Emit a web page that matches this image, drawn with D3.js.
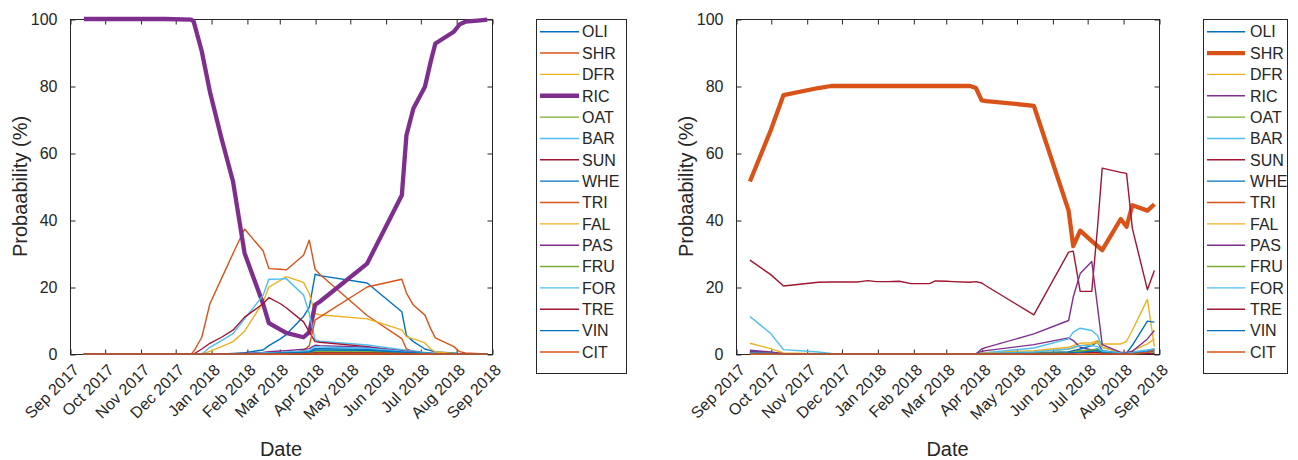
<!DOCTYPE html>
<html><head><meta charset="utf-8">
<script src="https://cdn.jsdelivr.net/npm/d3@7"></script>
<style>
body{margin:0;background:#fff;}
svg{display:block;}
text{font-family:"Liberation Sans", Arial, Helvetica, sans-serif; fill:#262626;}
</style>
</head><body><svg id="c" width="1298" height="460"></svg>
<script>
const dates = ["2017-09-13","2017-10-01","2017-10-12","2017-11-11","2017-11-22","2017-12-15","2017-12-17","2017-12-24",
"2017-12-31","2018-01-10","2018-01-20","2018-01-30","2018-02-15","2018-02-20","2018-03-02","2018-03-07",
"2018-03-22","2018-03-27","2018-04-01","2018-04-05","2018-05-16","2018-06-15","2018-06-19","2018-06-25",
"2018-07-05","2018-07-10","2018-07-14","2018-07-30","2018-08-04","2018-08-09","2018-08-22","2018-08-28"];
const classes = ["OLI","SHR","DFR","RIC","OAT","BAR","SUN","WHE","TRI","FAL","PAS","FRU","FOR","TRE","VIN","CIT"];
const palette = ["#0072BD","#D95319","#EDB120","#7E2F8E","#77AC30","#4DBEEE","#A2142F"];
const yTicks = [0,20,40,60,80,100];
const monthTicks = ["2017-09-01","2017-10-01","2017-11-01","2017-12-01","2018-01-01","2018-02-01","2018-03-01",
"2018-04-01","2018-05-01","2018-06-01","2018-07-01","2018-08-01","2018-09-01"];
const monthLabels = ["Sep 2017","Oct 2017","Nov 2017","Dec 2017","Jan 2018","Feb 2018","Mar 2018",
"Apr 2018","May 2018","Jun 2018","Jul 2018","Aug 2018","Sep 2018"];

// ---- left panel (RIC field) ----
const OLI_L = [0,0,0,0,0,0,0,0, 0,0,0.2,0.4,1.2,2.5,4.5,5.8, 11.2,14.0,23.8,23.4,21.2,12.6,5.5,3.7, 1.5,1.0,0.6,0.3,0.1,0,0,0];
const SHR_L = [0,0,0,0,0,0,0.8,5.0, 15.0,22.5,30.0,37.3,30.8,25.5,25.3,25.1, 29.5,34.0,25.3,23.8,11.5,4.6,1.5,0.8, 0.3,0.1,0,0,0,0,0,0];
const DFR_L = [0,0,0,0,0,0,0,0, 0.8,2.2,3.7,6.8,15.5,20.0,22.0,23.1, 21.4,18.0,12.0,11.7,10.5,7.2,5.2,4.5, 3.3,1.5,0.6,0.2,0,0,0,0];
const RIC_L = [100,100,100,100,100,99.8,99.2,90.3, 78.3,64.4,51.5,30.1,15.0,9.2,7.3,6.3, 5.0,6.5,14.7,15.6,27.0,47.4,65.3,73.3, 79.8,87.3,92.7,96.2,98.4,99.2,99.6,99.8];
const OAT_L = [0,0,0,0,0,0,0,0, 0,0,0,0,0.1,0.1,0.2,0.2, 0.3,0.4,0.8,0.9,0.9,0.6,0.5,0.4, 0.3,0.2,0.1,0,0,0,0,0];
const BAR_L = [0,0,0,0,0,0,0,0, 2.0,4.0,6.1,10.5,17.5,22.3,22.4,22.5, 17.6,12.0,4.2,3.8,2.7,1.3,1.1,0.9, 0.5,0.3,0.2,0,0,0,0,0];
const SUN_L = [0,0,0,0,0,0,0,1.5, 3.2,5.0,7.1,11.0,15.0,16.8,15.0,13.8, 9.6,6.6,3.7,3.5,2.2,0.8,0.6,0.4, 0.2,0,0,0,0,0,0,0];
const WHE_L = [0,0,0,0,0,0,0,0, 0,0,0,0,0.2,0.3,0.4,0.5, 0.8,0.9,1.6,1.6,1.4,0.8,0.6,0.5, 0.3,0.2,0.1,0,0,0,0,0];
const TRI_L = [0,0,0,0,0,0,0,0, 0,0,0,0,0,0,0,0, 1.0,2.5,10.1,11.0,20.0,22.3,18.2,14.6, 11.6,7.5,4.8,2.2,0.7,0.3,0.1,0];
const FAL_L = [0,0,0,0,0,0,0,0, 0,0,0,0,0.1,0.1,0.2,0.2, 0.3,0.4,0.5,0.5,0.5,0.3,0.3,0.2, 0.1,0.1,0,0,0,0,0,0];
const PAS_L = [0,0,0,0,0,0,0,0, 0,0,0,0.2,0.5,0.7,0.9,1.0, 1.4,1.6,2.6,2.5,2.0,1.0,0.8,0.6, 0.3,0.2,0.1,0,0,0,0,0];
const FRU_L = [0,0,0,0,0,0,0,0, 0,0,0,0,0.1,0.1,0.1,0.2, 0.3,0.3,0.6,0.6,0.6,0.4,0.3,0.3, 0.2,0.1,0,0,0,0,0,0];
const FOR_L = [0,0,0,0,0,0,0,0, 0,0,0,0.1,0.3,0.4,0.5,0.6, 0.8,1.0,2.2,2.1,1.7,0.8,0.6,0.5, 0.3,0.1,0,0,0,0,0,0];
const TRE_L = [0,0,0,0,0,0,0,0, 0,0,0,0,0.1,0.1,0.1,0.1, 0.2,0.2,0.3,0.3,0.3,0.2,0.2,0.1, 0.1,0,0,0,0,0,0,0];
const VIN_L = [0,0,0,0,0,0,0,0, 0,0,0,0,0.1,0.2,0.3,0.3, 0.5,0.6,1.2,1.2,1.1,0.6,0.5,0.4, 0.2,0.1,0,0,0,0,0,0];
const CIT_L = [0,0,0,0,0,0,0,0, 0,0,0,0,0,0,0,0, 0,0,0,0,0,0,0,0, 0,0,0,0,0,0,0,0];

// ---- right panel (SHR field) ----
const OLI_R = [0.8,0.4,0,0,0,0,0,0, 0,0,0,0,0,0,0,0, 0,0,0.1,0.1,0.2,0.4,0.5,0.8, 1.2,1.5,0.5,0.2,0.1,0.3,1.0,1.5];
const SHR_R = [51.5,66.8,77.3,79.4,80.0,80.0,80.0,80.0, 80.0,80.0,80.0,80.0,80.0,80.0,80.0,80.0, 80.0,79.4,75.7,75.5,74.1,42.8,32.2,36.8, 33.7,32.2,31.0,40.3,38.0,44.4,42.8,44.7];
const DFR_R = [3.2,1.6,0.3,0.1,0,0,0,0, 0,0,0,0,0,0,0,0, 0,0,0.3,0.4,1.0,2.0,2.5,3.2, 3.4,4.0,3.0,3.0,3.8,7.1,16.3,2.2];
const RIC_R = [1.1,0.6,0.1,0,0,0,0,0, 0,0,0,0,0,0,0,0, 0,0,0.8,1.0,2.8,4.8,4.0,2.0, 1.2,0.8,0.5,0.2,0.2,0.2,0.4,0.6];
const OAT_R = [0.2,0.1,0,0,0,0,0,0, 0,0,0,0,0,0,0,0, 0,0,0.1,0.1,0.3,0.6,0.8,1.0, 1.2,1.2,0.5,0.2,0.1,0.1,0.3,0.5];
const BAR_R = [11.2,6.1,1.3,0.6,0.2,0,0,0, 0,0,0,0,0,0,0,0, 0,0,0.3,0.4,1.8,4.5,6.5,7.7, 7.0,5.5,2.0,0.5,0.4,0.6,1.2,1.5];
const SUN_R = [28.0,23.7,20.3,21.4,21.5,21.5,21.6,21.9, 21.6,21.6,21.7,21.0,21.0,21.8,21.7,21.6, 21.4,21.6,21.2,20.3,11.7,30.4,30.7,18.7, 18.7,38.0,55.5,54.2,53.9,37.5,19.2,24.9];
const WHE_R = [0.3,0.2,0,0,0,0,0,0, 0,0,0,0,0,0,0,0, 0,0,0.1,0.1,0.3,0.6,1.0,1.5, 2.5,3.6,1.0,0.3,0.3,2.6,9.8,9.5];
const TRI_R = [0,0,0,0,0,0,0,0, 0,0,0,0,0,0,0,0, 0,0,0.1,0.1,0.2,0.3,0.4,0.5, 0.5,0.5,0.3,0.1,0.1,0.1,0.2,0.3];
const FAL_R = [0,0,0,0,0,0,0,0, 0,0,0,0,0,0,0,0, 0,0,0.2,0.3,0.6,1.5,1.8,2.5, 3.0,3.5,2.0,0.5,0.4,1.0,3.0,4.5];
const PAS_R = [0.6,0.3,0,0,0,0,0,0, 0,0,0,0,0,0,0,0, 0,0,1.5,2.0,6.0,10.0,17.0,24.0, 27.6,14.0,2.8,0.5,0.5,0.8,4.5,7.0];
const FRU_R = [0.1,0,0,0,0,0,0,0, 0,0,0,0,0,0,0,0, 0,0,0,0.1,0.2,0.4,0.5,0.6, 0.8,0.9,0.4,0.1,0.1,0.1,0.2,0.3];
const FOR_R = [0.4,0.2,0,0,0,0,0,0, 0,0,0,0,0,0,0,0, 0,0,0.1,0.2,0.6,1.5,2.0,2.5, 2.5,2.2,0.8,0.3,0.2,0.3,0.6,0.8];
const TRE_R = [0.2,0.1,0,0,0,0,0,0, 0,0,0,0,0,0,0,0, 0,0,0,0,0.1,0.2,0.3,0.4, 0.4,0.4,0.2,0.1,0.1,0.1,0.1,0.1];
const VIN_R = [0.2,0.1,0,0,0,0,0,0, 0,0,0,0,0,0,0,0, 0,0,0.1,0.1,0.2,0.3,0.4,0.5, 0.8,1.0,0.4,0.1,0.1,0.2,0.6,1.0];
const CIT_R = [0,0,0,0,0,0,0,0, 0,0,0,0,0,0,0,0, 0,0,0,0,0,0,0,0, 0,0,0,0,0,0,0.5,1.2];

const leftSeries = [OLI_L,SHR_L,DFR_L,RIC_L,OAT_L,BAR_L,SUN_L,WHE_L,TRI_L,FAL_L,PAS_L,FRU_L,FOR_L,TRE_L,VIN_L,CIT_L];
const rightSeries = [OLI_R,SHR_R,DFR_R,RIC_R,OAT_R,BAR_R,SUN_R,WHE_R,TRI_R,FAL_R,PAS_R,FRU_R,FOR_R,TRE_R,VIN_R,CIT_R];

const parse = d3.timeParse("%Y-%m-%d");
const dateObjs = dates.map(parse);
const svg = d3.select("#c");
const AX = "#262626";

function panel(cfg) {
  const {x0, x1, y0, y1, series, thick, legX, legW, lineX0, lineX1, textX} = cfg;
  const x = d3.scaleTime().domain([parse(monthTicks[0]), parse(monthTicks[monthTicks.length-1])]).range([x0, x1]);
  const y = d3.scaleLinear().domain([0, 100]).range([y1, y0]);
  const g = svg.append("g");

  // box (under data)
  g.append("rect").attr("x", x0 + 0.5).attr("y", y0 + 0.5)
    .attr("width", x1 - x0).attr("height", y1 - y0)
    .attr("fill", "none").attr("stroke", AX).attr("stroke-width", 1)
    .attr("shape-rendering", "crispEdges");

  // y axis ticks (left and right, inward)
  const yl = d3.axisLeft(y).tickValues(yTicks).tickSize(-5).tickPadding(13);
  const ya = g.append("g").attr("transform", `translate(${x0 + 0.5},0.5)`).call(yl);
  ya.select(".domain").remove();
  ya.selectAll("line").attr("stroke", AX);
  ya.selectAll("text").attr("font-size", 16).attr("fill", AX)
    .style("font-family", '"Liberation Sans", Arial, sans-serif');
  const yr = d3.axisRight(y).tickValues(yTicks).tickSize(-5).tickFormat("");
  const yra = g.append("g").attr("transform", `translate(${x1 + 0.5},0.5)`).call(yr);
  yra.select(".domain").remove();
  yra.selectAll("line").attr("stroke", AX);

  // x ticks (bottom & top, inward)
  const mt = monthTicks.map(parse);
  const xb = d3.axisBottom(x).tickValues(mt).tickSize(-5).tickFormat("");
  const xba = g.append("g").attr("transform", `translate(0.5,${y1 + 0.5})`).call(xb);
  xba.select(".domain").remove();
  xba.selectAll("line").attr("stroke", AX);
  const xt = d3.axisTop(x).tickValues(mt).tickSize(-5).tickFormat("");
  const xta = g.append("g").attr("transform", `translate(0.5,${y0 + 0.5})`).call(xt);
  xta.select(".domain").remove();
  xta.selectAll("line").attr("stroke", AX);

  // lines (drawn over the axes, as in the original)
  const line = d3.line().x((v, i) => x(dateObjs[i])).y(v => y(v));
  series.forEach((vals, k) => {
    g.append("path").attr("d", line(vals))
      .attr("fill", "none")
      .attr("stroke", palette[k % 7])
      .attr("stroke-width", k === thick ? 4.3 : 1.4)
      .attr("stroke-linejoin", "round");
  });

  // rotated month labels
  g.selectAll("text.xl").data(mt).enter().append("text")
    .attr("class", "xl")
    .attr("text-anchor", "end")
    .attr("font-size", 16)
    .attr("transform", (d) => `translate(${x(d) + 10},${y1 + 17}) rotate(-45)`)
    .text((d, i) => monthLabels[i]);

  // axis titles
  g.append("text").attr("x", (x0 + x1) / 2).attr("y", 456)
    .attr("text-anchor", "middle").attr("font-size", 20).text("Date");
  g.append("text").attr("transform", `translate(${x0 - 43},${(y0 + y1) / 2}) rotate(-90)`)
    .attr("text-anchor", "middle").attr("font-size", 20).text("Probaability (%)");

  // legend
  const lg = svg.append("g");
  lg.append("rect").attr("x", legX + 0.5).attr("y", 19.5).attr("width", legW).attr("height", 354)
    .attr("fill", "#fff").attr("stroke", AX).attr("stroke-width", 1).attr("shape-rendering", "crispEdges");
  classes.forEach((c, k) => {
    const yy = 31.7 + k * 21.35;
    lg.append("line").attr("x1", lineX0).attr("x2", lineX1).attr("y1", yy).attr("y2", yy)
      .attr("stroke", palette[k % 7]).attr("stroke-width", k === thick ? 4.3 : 1.4);
    lg.append("text").attr("x", textX).attr("y", yy).attr("dy", "0.36em")
      .attr("font-size", 16).text(c);
  });
}

panel({x0: 70, x1: 492, y0: 19, y1: 354, series: leftSeries, thick: 3,
       legX: 536, legW: 90, lineX0: 540, lineX1: 579, textX: 582});
panel({x0: 736, x1: 1159, y0: 19, y1: 354, series: rightSeries, thick: 1,
       legX: 1203, legW: 84, lineX0: 1207, lineX1: 1245, textX: 1250});
</script>
</body></html>
